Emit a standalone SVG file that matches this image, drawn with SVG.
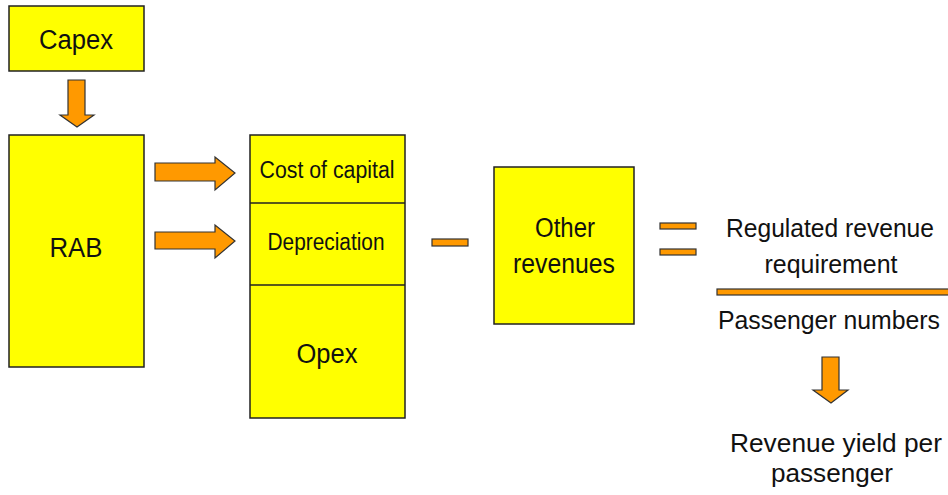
<svg xmlns="http://www.w3.org/2000/svg" width="948" height="495" viewBox="0 0 948 495">
<style>
.box{fill:#FFFF00;stroke:#222;stroke-width:1.5}
.arr{fill:#FF9900;stroke:#333;stroke-width:1.2}
.t{font-family:"Liberation Sans",Arial,sans-serif;font-size:27px;fill:#111;text-anchor:middle}
.s{font-size:23px}
.r{font-size:25px}
</style>
<rect width="948" height="495" fill="#fff"/>
<g id="capex"><rect class="box" x="9" y="6" width="135" height="65"/><text class="t" x="76" y="49" textLength="74" lengthAdjust="spacingAndGlyphs">Capex</text></g>
<g id="rab"><rect class="box" x="9" y="135" width="135" height="232"/><text class="t" x="76" y="257" textLength="53" lengthAdjust="spacingAndGlyphs">RAB</text></g>
<g id="costs">
<rect class="box" x="250" y="135" width="155" height="283"/>
<line x1="250" y1="203" x2="405" y2="203" stroke="#222" stroke-width="1.5"/>
<line x1="250" y1="285" x2="405" y2="285" stroke="#222" stroke-width="1.5"/>
<text class="t s" x="327" y="178" textLength="135" lengthAdjust="spacingAndGlyphs">Cost of capital</text>
<text class="t s" x="326" y="250" textLength="117" lengthAdjust="spacingAndGlyphs">Depreciation</text>
<text class="t" x="327" y="363" textLength="61" lengthAdjust="spacingAndGlyphs">Opex</text>
</g>
<g id="other"><rect class="box" x="494" y="167" width="140" height="157"/>
<text class="t" x="565" y="237" textLength="60" lengthAdjust="spacingAndGlyphs">Other</text>
<text class="t" x="564" y="273" textLength="102" lengthAdjust="spacingAndGlyphs">revenues</text></g>
<g id="result">
<text class="t r" x="830" y="237" textLength="208" lengthAdjust="spacingAndGlyphs">Regulated revenue</text>
<text class="t r" x="831" y="273" textLength="133" lengthAdjust="spacingAndGlyphs">requirement</text>
<rect class="arr" x="717" y="289" width="235" height="6"/>
<text class="t r" x="829" y="329" textLength="222" lengthAdjust="spacingAndGlyphs">Passenger numbers</text>
</g>
<g id="yield">
<text class="t r" x="836" y="452" textLength="212" lengthAdjust="spacingAndGlyphs">Revenue yield per</text>
<text class="t r" x="832" y="482" textLength="122" lengthAdjust="spacingAndGlyphs">passenger</text>
</g>
<g id="connectors">
<polygon class="arr" points="68,80 85,80 85,115 94,115 77,127 60,115 68,115"/>
<polygon class="arr" points="155,163 215,163 215,157 235,173 215,190 215,181 155,181"/>
<polygon class="arr" points="155,232 215,232 215,225 235,241 215,258 215,249 155,249"/>
<polygon class="arr" points="822,357 839,357 839,390 848,390 831,403 813,390 822,390"/>
<rect class="arr" x="432" y="239" width="36" height="7"/>
<rect class="arr" x="660" y="223" width="36" height="6"/>
<rect class="arr" x="660" y="249" width="36" height="6"/>
</g>
</svg>
